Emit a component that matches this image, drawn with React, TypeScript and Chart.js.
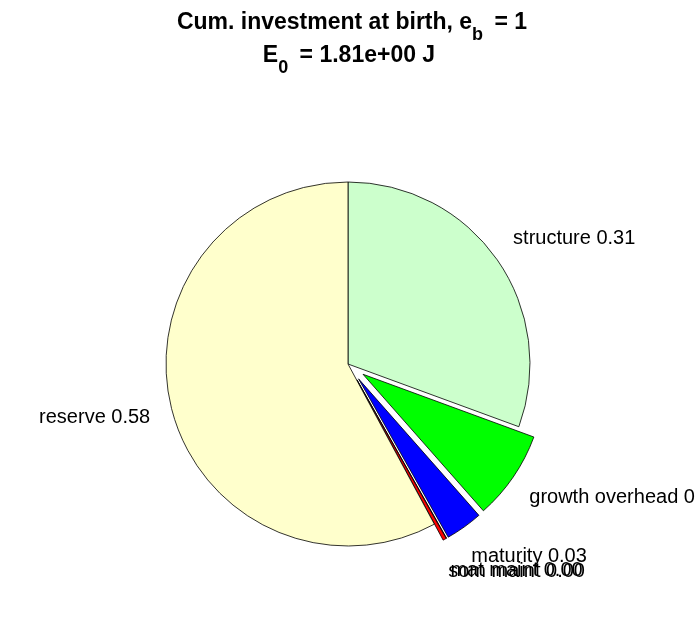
import React, { useEffect, useRef } from "react";
import { Chart, registerables } from "chart.js";

Chart.register(...registerables);

const categories = ["structure", "growth overhead", "maturity", "mat maint", "som maint", "reserve"];
const fractions = [0.306, 0.079, 0.033, 0.0003, 0.003, 0.5787];
const exploded = [false, true, true, true, true, false];
const sliceColors = ["#CCFFCC", "#00FF00", "#0000FF", "#FF00FF", "#FF0000", "#FFFFCC"];
const titleLine1 = [
  { t: "Cum. investment at birth, e", sub: false },
  { t: "b", sub: true },
  { t: " = 1", sub: false },
];
const titleLine2 = [
  { t: "E", sub: false },
  { t: "0", sub: true },
  { t: " = 1.81e+00 J", sub: false },
];

const W = 696;
const H = 618;
const PIE_RADIUS = 182;
const EXPLODE_PX = 0.1 * PIE_RADIUS;
const FONT = "'Liberation Sans', Arial, Helvetica, sans-serif";

const piePlugin = {
  id: "matlabPie",
  beforeDatasetsDraw(chart: any) {
    const meta = chart.getDatasetMeta(0);
    const ca = chart.chartArea;
    const cx = (ca.left + ca.right) / 2;
    const cy = (ca.top + ca.bottom) / 2;
    meta.data.forEach((arc: any, i: number) => {
      const mid = (arc.startAngle + arc.endAngle) / 2;
      const e = exploded[i] ? EXPLODE_PX : 0;
      arc.x = cx + Math.cos(mid) * e;
      arc.y = cy + Math.sin(mid) * e;
    });
  },
  afterDatasetsDraw(chart: any) {
    const ctx = chart.ctx;
    const meta = chart.getDatasetMeta(0);
    const R = meta.controller.outerRadius;
    ctx.save();
    ctx.font = `20px ${FONT}`;
    ctx.fillStyle = "#000";
    ctx.textBaseline = "middle";
    meta.data.forEach((arc: any, i: number) => {
      const mid = (arc.startAngle + arc.endAngle) / 2;
      const dist = 1.2 * R;
      const ax = arc.x + Math.cos(mid) * dist;
      const ay = arc.y + Math.sin(mid) * dist;
      const right = Math.cos(mid) >= 0;
      ctx.textAlign = right ? "left" : "right";
      const label = `${categories[i]} ${fractions[i].toFixed(2)}`;
      ctx.fillText(label, ax + (right ? -14 : 14), ay);
    });
    ctx.restore();
  },
  afterDraw(chart: any) {
    const ctx = chart.ctx;
    const SUB_GAP = 5;
    const drawLine = (segs: { t: string; sub: boolean }[], baseline: number, cx: number) => {
      const mainFont = `bold 23px ${FONT}`;
      const subFont = `bold 18px ${FONT}`;
      let total = 0;
      const widths = segs.map((s) => {
        ctx.font = s.sub ? subFont : mainFont;
        const w = ctx.measureText(s.t).width + (s.sub ? SUB_GAP : 0);
        total += w;
        return w;
      });
      let x = cx - total / 2;
      ctx.textAlign = "left";
      ctx.textBaseline = "alphabetic";
      ctx.fillStyle = "#000";
      segs.forEach((s, i) => {
        ctx.font = s.sub ? subFont : mainFont;
        ctx.fillText(s.t, x, s.sub ? baseline + 11 : baseline);
        x += widths[i];
      });
    };
    ctx.save();
    drawLine(titleLine1, 29, 352);
    drawLine(titleLine2, 62, 349);
    ctx.restore();
  },
};

export default function App() {
  const canvasRef = useRef<HTMLCanvasElement | null>(null);

  useEffect(() => {
    const canvas = canvasRef.current;
    if (!canvas) return;
    Chart.defaults.font.family = FONT;
    const chart = new Chart(canvas, {
      type: "pie",
      data: {
        labels: categories,
        datasets: [
          {
            data: fractions,
            backgroundColor: sliceColors,
            borderColor: "#000000",
            borderWidth: 0.8,
            offset: 0,
            hoverOffset: 0,
            radius: PIE_RADIUS,
          } as any,
        ],
      },
      options: {
        responsive: false,
        animation: false,
        events: [],
        rotation: 0,
        layout: { padding: { top: 110, bottom: 0, left: 0, right: 0 } },
        plugins: {
          legend: { display: false },
          title: { display: false },
          tooltip: { enabled: false },
        },
      },
      plugins: [piePlugin],
    });
    return () => chart.destroy();
  }, []);

  return (
    <div style={{ position: "absolute", left: 0, top: 0, width: W, height: H, background: "#fff", overflow: "hidden" }}>
      <canvas ref={canvasRef} width={W} height={H} style={{ display: "block", width: W, height: H }} />
    </div>
  );
}
